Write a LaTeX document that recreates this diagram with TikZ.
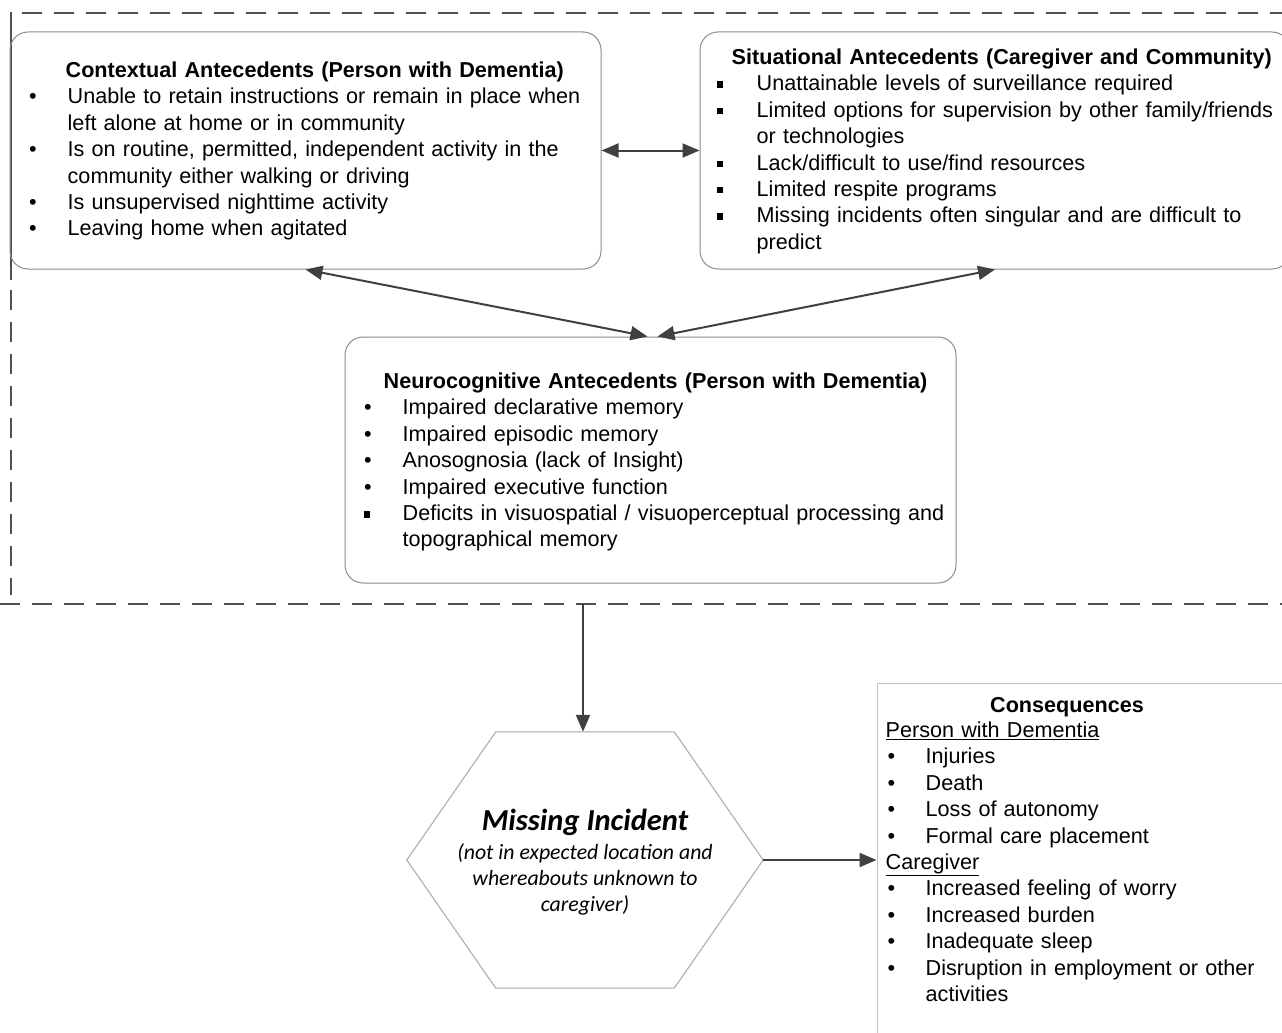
\documentclass[tikz,border=0pt]{standalone}
\usepackage{fontspec}
\setmainfont{Liberation Sans}
\newfontfamily\calibri{Carlito}
\usetikzlibrary{arrows.meta,calc}

\definecolor{arrowgray}{HTML}{404040}
\definecolor{boxgray}{HTML}{8C8C8C}
\definecolor{framegray}{HTML}{505050}
\definecolor{hexgray}{HTML}{A8A8A8}

\newlength\itemind
\newlength\bulind
\newcommand{\listfont}{\fontsize{21.6pt}{26.4pt}\selectfont\hyphenpenalty=10000 }
\newcommand{\bitem}[2][\textbullet]{\par\noindent\hangindent=\itemind\hangafter=1\makebox[\itemind][l]{\hspace*{\bulind}#1}#2\par}
\newcommand{\sqbullet}{\raisebox{3pt}{\rule{6pt}{6.5pt}}}

\tikzset{
  antebox/.style={draw=boxgray, line width=1pt, rounded corners=18pt, inner sep=0pt},
  listtext/.style={anchor=base west, inner sep=0pt, align=left, font=\listfont},
  conn/.style={draw=arrowgray, line width=2pt, -{Triangle[length=17pt,width=14pt]}},
  biconn/.style={conn, {Triangle[length=17pt,width=14pt]}-{Triangle[length=17pt,width=14pt]}},
  frame/.style={draw=framegray, line width=1.6pt, dash pattern=on 20pt off 12pt},
}

\begin{document}
\begin{tikzpicture}[x=1pt,y=-1pt]
\fill[white] (0,0) rectangle (1282,1033);
\useasboundingbox (0,0) rectangle (1282,1033);

% dashed frame round the antecedents
\draw[frame] (22,13) -- (1282,13);
\draw[framegray, line width=1.6pt] (11,12) -- (11,280);
\draw[frame] (11,290) -- (11,595);
\draw[frame] (0,604) -- (1282,604);
\coordinate (cut) at (583,604);

% antecedent boxes
\node[antebox, minimum width=591pt, minimum height=237pt] (ctx) at (305.5,150.5) {};
\node[antebox, minimum width=590pt, minimum height=237pt] (sit) at (995,150.5) {};
\node[antebox, minimum width=611pt, minimum height=246pt] (neuro) at (650.5,460) {};

\node[listtext, text width=660pt] (ctxtext) at ($(ctx.north west)+(0,46)$) {%
  \setlength\itemind{58pt}\setlength\bulind{19.5pt}%
  \noindent\hspace*{56pt}\textbf{Contextual Antecedents (Person with Dementia)}
  \bitem{Unable to retain instructions or remain in place when\break left alone at home or in community}
  \bitem{Is on routine, permitted, independent activity in the\break community either walking or driving}
  \bitem{Is unsupervised nighttime activity}
  \bitem{Leaving home when agitated}};

\node[listtext, text width=660pt] (sittext) at ($(sit.north west)+(0,33)$) {%
  \setlength\itemind{57pt}\setlength\bulind{17pt}%
  \noindent\hspace*{32pt}\textbf{Situational Antecedents (Caregiver and Community)}
  \bitem[\sqbullet]{Unattainable levels of surveillance required}
  \bitem[\sqbullet]{Limited options for supervision by other family/friends\break or technologies}
  \bitem[\sqbullet]{Lack/difficult to use/find resources}
  \bitem[\sqbullet]{Limited respite programs}
  \bitem[\sqbullet]{Missing incidents often singular and are difficult to\break predict}};

\node[listtext, text width=680pt] (neurotext) at ($(neuro.north west)+(0,52)$) {%
  \setlength\itemind{58pt}\setlength\bulind{19.5pt}%
  \noindent\hspace*{39pt}\textbf{Neurocognitive Antecedents (Person with Dementia)}
  \bitem{Impaired declarative memory}
  \bitem{Impaired episodic memory}
  \bitem{Anosognosia (lack of Insight)}
  \bitem{Impaired executive function}
  \bitem[\sqbullet]{Deficits in visuospatial / visuoperceptual processing and\break topographical memory}};

% missing incident
\node[minimum width=356pt, minimum height=256pt, inner sep=0pt] (hex) at (585,860) {};
\draw[hexgray, line width=1pt] (hex.west) -- ($(hex.north west)+(89,0)$) -- ($(hex.north east)+(-89,0)$)
  -- (hex.east) -- ($(hex.south east)+(-89,0)$) -- ($(hex.south west)+(89,0)$) -- cycle;
\node[anchor=base, inner sep=0pt, font=\calibri\fontsize{30.5pt}{34pt}\selectfont\bfseries\itshape] (mititle) at (585,830) {Missing Incident};
\node[anchor=base, inner sep=0pt, align=center, font=\calibri\fontsize{21.8pt}{26pt}\selectfont\itshape] (misub) at (585,911)
  {(not in expected location and\\whereabouts unknown to\\caregiver)};

% consequences
\node[draw=hexgray!70, line width=1pt, minimum width=423pt, minimum height=362pt, inner sep=0pt] (cons) at (1088.5,864) {};
\node[anchor=base, inner sep=0pt, font=\listfont\bfseries] (constitle) at (1067,712) {Consequences};
\node[listtext, text width=420pt] (constext) at ($(cons.north west)+(0,55)$) {%
  \setlength\itemind{49pt}\setlength\bulind{11pt}%
  \noindent\hspace*{9pt}\underline{Person with Dementia}
  \bitem{Injuries}
  \bitem{Death}
  \bitem{Loss of autonomy}
  \bitem{Formal care placement}
  \noindent\hspace*{9pt}\underline{Caregiver}
  \bitem{Increased feeling of worry}
  \bitem{Increased burden}
  \bitem{Inadequate sleep}
  \bitem{Disruption in employment or other\break activities}};

% connectors
\draw[biconn] (ctx) -- (sit);
\draw[biconn] (ctx.south) -- ($(neuro.north)+(-3,0)$);
\draw[biconn] (sit.south) -- ($(neuro.north)+(7,0)$);
\draw[conn] (cut) -- (cut |- hex.north);
\draw[conn] (hex.east) -- (cons.west |- hex.east);
\end{tikzpicture}
\end{document}
